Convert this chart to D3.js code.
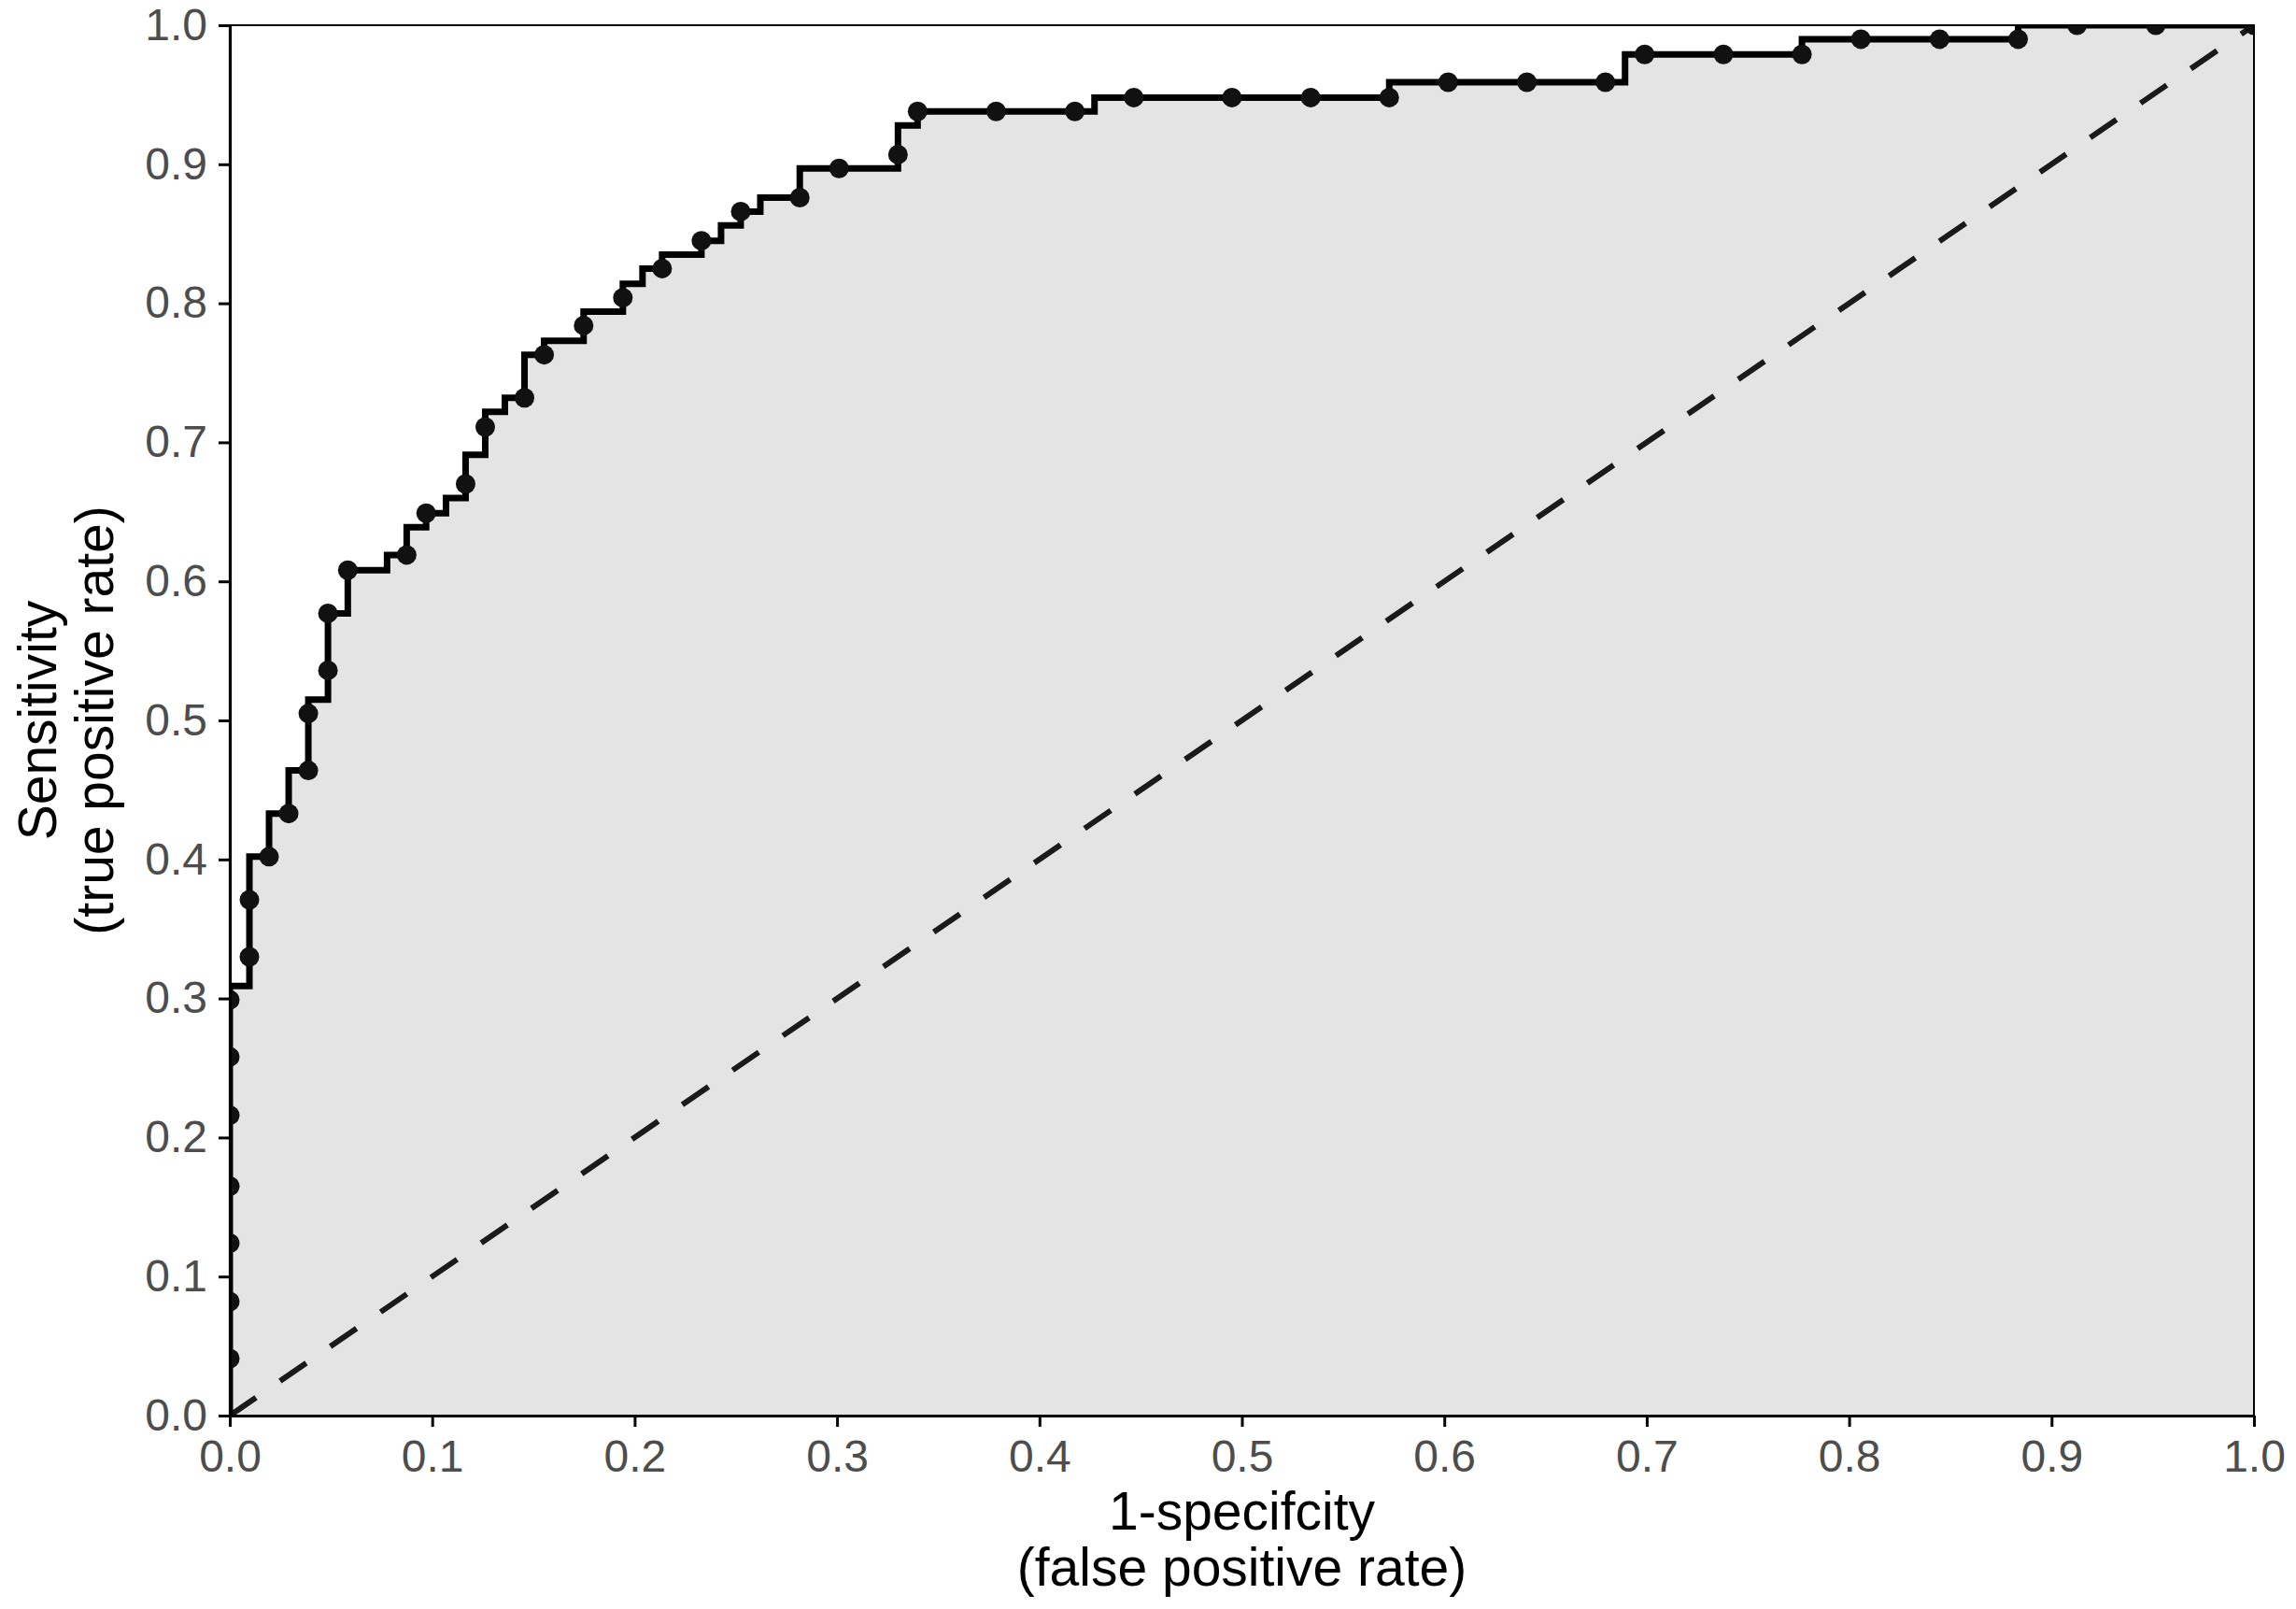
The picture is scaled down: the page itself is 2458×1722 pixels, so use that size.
<!DOCTYPE html>
<html>
<head>
<meta charset="utf-8">
<script src="https://cdn.jsdelivr.net/npm/d3@7"></script>
<style>
    body { margin: 0; background: #ffffff; }
    svg { display: block; font-family: "Liberation Sans", Arial, sans-serif; }
</style>
</head>
<body>
<div id="roc-container"></div>
<script>
// Values

const axisTicks = [0.0, 0.1, 0.2, 0.3, 0.4, 0.5, 0.6, 0.7, 0.8, 0.9, 1.0];

// dots (1-specificity, sensitivity)
const pointFpr = [0, 0, 0, 0, 0, 0, 0, 0.0097, 0.0097, 0.0194, 0.0291, 0.0388, 0.0388, 0.0485, 0.0485, 0.0583,
    0.0874, 0.097, 0.1165, 0.1262, 0.1456, 0.1553, 0.1748, 0.1942, 0.2136, 0.233, 0.2524, 0.2816, 0.301, 0.3301,
    0.3398, 0.3786, 0.4175, 0.4466, 0.4951, 0.534, 0.5728, 0.6019, 0.6408, 0.6796, 0.699, 0.7379, 0.7767, 0.8058,
    0.8447, 0.8835, 0.9126, 0.9515, 1.0];
const pointTpr = [0.041, 0.082, 0.124, 0.165, 0.216, 0.258, 0.299, 0.330, 0.371, 0.402, 0.433, 0.464, 0.505, 0.536,
    0.577, 0.608, 0.619, 0.649, 0.670, 0.711, 0.732, 0.763, 0.784, 0.804, 0.825, 0.845, 0.866, 0.876, 0.897, 0.907,
    0.938, 0.938, 0.938, 0.948, 0.948, 0.948, 0.948, 0.959, 0.959, 0.959, 0.979, 0.979, 0.979, 0.990, 0.990, 0.990,
    1.0, 1.0, 1.0];

// step curve corners (horizontal first, then vertical)
const stepFpr = [0, 0, 0.0097, 0.0194, 0.0291, 0.0388, 0.0485, 0.0583, 0.0777, 0.0874, 0.097, 0.1068, 0.1165,
    0.1262, 0.1359, 0.1456, 0.1553, 0.1748, 0.1942, 0.2039, 0.2136, 0.233, 0.2427, 0.2524, 0.2621, 0.2816, 0.3301,
    0.3398, 0.4272, 0.5728, 0.6893, 0.7767, 0.8835, 1.0];
const stepTpr = [0, 0.309, 0.402, 0.433, 0.464, 0.515, 0.577, 0.608, 0.619, 0.639, 0.649, 0.660, 0.691, 0.722,
    0.732, 0.763, 0.773, 0.794, 0.814, 0.825, 0.835, 0.845, 0.856, 0.866, 0.876, 0.897, 0.928, 0.938, 0.948, 0.959,
    0.979, 0.990, 1.0, 1.0];

const chanceLine = [0, 1];

createRocChart();

function createRocChart() {
    const w = 2458;
    const h = 1722;
    const left = 246;
    const right = 2413;
    const top = 27;
    const bottom = 1515;

    const svg = d3.select("#roc-container")
    .append("svg")
    .attr("width", w)
    .attr("height", h)

    svg.append("rect")
    .attr("width", w)
    .attr("height", h)
    .attr("fill", "#ffffff")

    const xScale = d3.scaleLinear()
    .domain([0, 1])
    .range([left, right])

    const yScale = d3.scaleLinear()
    .domain([0, 1])
    .range([bottom, top])

    svg.append("clipPath")
    .attr("id", "panel-clip")
    .append("rect")
    .attr("x", left)
    .attr("y", top)
    .attr("width", right - left)
    .attr("height", bottom - top)

    const panel = svg.append("g").attr("clip-path", "url(#panel-clip)");

    const stepData = stepFpr.map((d, i) => ({ fpr: d, tpr: stepTpr[i] }));

    // grey area under the curve
    const area = d3.area()
    .curve(d3.curveStepAfter)
    .x(d => xScale(d.fpr))
    .y0(yScale(0))
    .y1(d => yScale(d.tpr))

    panel.append("path")
    .datum(stepData)
    .attr("d", area)
    .attr("fill", "#e4e4e4")

    // chance diagonal
    panel.append("line")
    .attr("x1", xScale(chanceLine[0]))
    .attr("y1", yScale(chanceLine[0]))
    .attr("x2", xScale(chanceLine[1]))
    .attr("y2", yScale(chanceLine[1]))
    .attr("stroke", "#1a1a1a")
    .attr("stroke-width", 6)
    .attr("stroke-dasharray", "34,31.3")

    const line = d3.line()
    .curve(d3.curveStepAfter)
    .x(d => xScale(d.fpr))
    .y(d => yScale(d.tpr))

    panel.append("path")
    .datum(stepData)
    .attr("d", line)
    .attr("fill", "none")
    .attr("stroke", "#000000")
    .attr("stroke-width", 7)
    .attr("stroke-linejoin", "miter")

    panel.selectAll("circle")
    .data(pointFpr.map((d, i) => ({ fpr: d, tpr: pointTpr[i] })))
    .enter()
    .append("circle")
    .attr("cx", d => xScale(d.fpr))
    .attr("cy", d => yScale(d.tpr))
    .attr("r", 10.5)
    .attr("fill", "#111111")

    // thin border on top and right
    svg.append("rect")
    .attr("x", left)
    .attr("y", top)
    .attr("width", right - left)
    .attr("height", bottom - top)
    .attr("fill", "none")
    .attr("stroke", "#000000")
    .attr("stroke-width", 2)

    const xAxis = d3.axisBottom(xScale).tickValues(axisTicks).tickFormat(d3.format(".1f")).tickSizeInner(12).tickSizeOuter(0).tickPadding(14);
    const yAxis = d3.axisLeft(yScale).tickValues(axisTicks).tickFormat(d3.format(".1f")).tickSizeInner(12).tickSizeOuter(0).tickPadding(12);

    const gx = svg.append("g")
    .attr("transform", "translate(0," + bottom + ")")
    .call(xAxis)

    const gy = svg.append("g")
    .attr("transform", "translate(" + left + ",0)")
    .call(yAxis)

    for (const g of [gx, gy]) {
        g.select(".domain").attr("stroke", "#000000").attr("stroke-width", 3.2);
        g.selectAll(".tick line").attr("stroke", "#000000").attr("stroke-width", 3);
        g.selectAll(".tick text")
        .attr("fill", "#4d4d4d")
        .style("font-size", "48px")
        .style("font-family", "'Liberation Sans', Arial, sans-serif");
    }

    // axis titles
    const xTitle = svg.append("text")
    .attr("text-anchor", "middle")
    .attr("fill", "#000000")
    .style("font-size", "57px")

    xTitle.append("tspan").attr("x", (left + right) / 2).attr("y", 1637).text("1-specifcity");
    xTitle.append("tspan").attr("x", (left + right) / 2).attr("y", 1697).text("(false positive rate)");

    const yMid = (top + bottom) / 2;
    const yTitle = svg.append("text")
    .attr("text-anchor", "middle")
    .attr("fill", "#000000")
    .attr("transform", "translate(0," + yMid + ") rotate(-90)")
    .style("font-size", "57px")

    yTitle.append("tspan").attr("x", 0).attr("y", 60).text("Sensitivity");
    yTitle.append("tspan").attr("x", 0).attr("y", 121).text("(true positive rate)");
}
</script>
</body>
</html>
